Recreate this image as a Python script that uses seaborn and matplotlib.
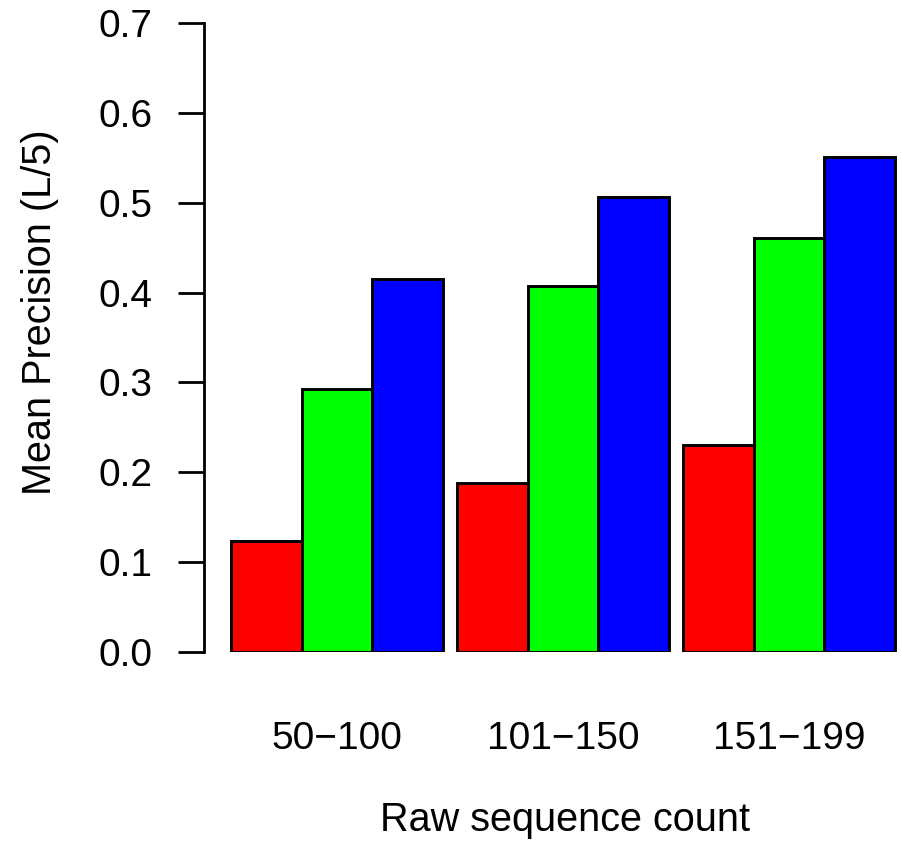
import matplotlib
matplotlib.use("Agg")
import matplotlib.pyplot as plt
import seaborn as sns
import pandas as pd

groups = ["50\u2212100", "101\u2212150", "151\u2212199"]
methods = ["A", "B", "C"]
values_a = [0.123, 0.188, 0.230]
values_b = [0.293, 0.407, 0.461]
values_c = [0.415, 0.506, 0.551]
colors = ["#FF0000", "#00FF00", "#0000FF"]
yticks = [0.0, 0.1, 0.2, 0.3, 0.4, 0.5, 0.6, 0.7]

rows = []
for m, vals in zip(methods, [values_a, values_b, values_c]):
    for g, v in zip(groups, vals):
        rows.append({"group": g, "method": m, "value": v})
df = pd.DataFrame(rows)

sns.set_theme(style="white")
plt.rcParams["font.family"] = ["Liberation Sans", "DejaVu Sans"]

W, H = 903, 841
fig = plt.figure(figsize=(W / 100, H / 100), dpi=100)
left_px, right_px = 204, 903
top_px, bot_px = 23.3, 651.7
ax = fig.add_axes([left_px / W, 1 - bot_px / H, (right_px - left_px) / W, (bot_px - top_px) / H])

sns.barplot(data=df, x="group", y="value", hue="method", order=groups,
            hue_order=methods, palette=colors, width=0.9375, saturation=1,
            edgecolor="black", linewidth=2.1, legend=False, ax=ax, errorbar=None)

unit = 226.0
xl = -0.46875 - (231 - left_px) / unit
ax.set_xlim(xl, xl + (right_px - left_px) / unit)
ax.set_ylim(0, 0.7)

for s in ["top", "right", "bottom"]:
    ax.spines[s].set_visible(False)
ax.spines["left"].set_linewidth(2.0)
ax.spines["left"].set_color("black")
ax.spines["left"].set_capstyle("projecting")

ax.set_yticks(yticks)
ax.set_yticklabels([f"{t:.1f}" for t in yticks])
ax.tick_params(axis="y", length=26 * 0.72, width=2.0, color="black", pad=18,
               labelsize=28, left=True)
ax.tick_params(axis="x", length=0, pad=50, labelsize=28)
for lab in ax.get_xticklabels():
    lab.set_color("black")
for lab in ax.get_yticklabels():
    lab.set_color("black")

ax.set_xlabel("")
ax.set_ylabel("")
fig.text(40 / W, 1 - 312 / H, "Mean Precision (L/5)", rotation=90,
         ha="center", va="center", fontsize=28.5, color="black")
fig.text(565 / W, 1 - 820 / H, "Raw sequence count", ha="center",
         va="center", fontsize=28.5, color="black")

fig.savefig("out.png", dpi=100)
